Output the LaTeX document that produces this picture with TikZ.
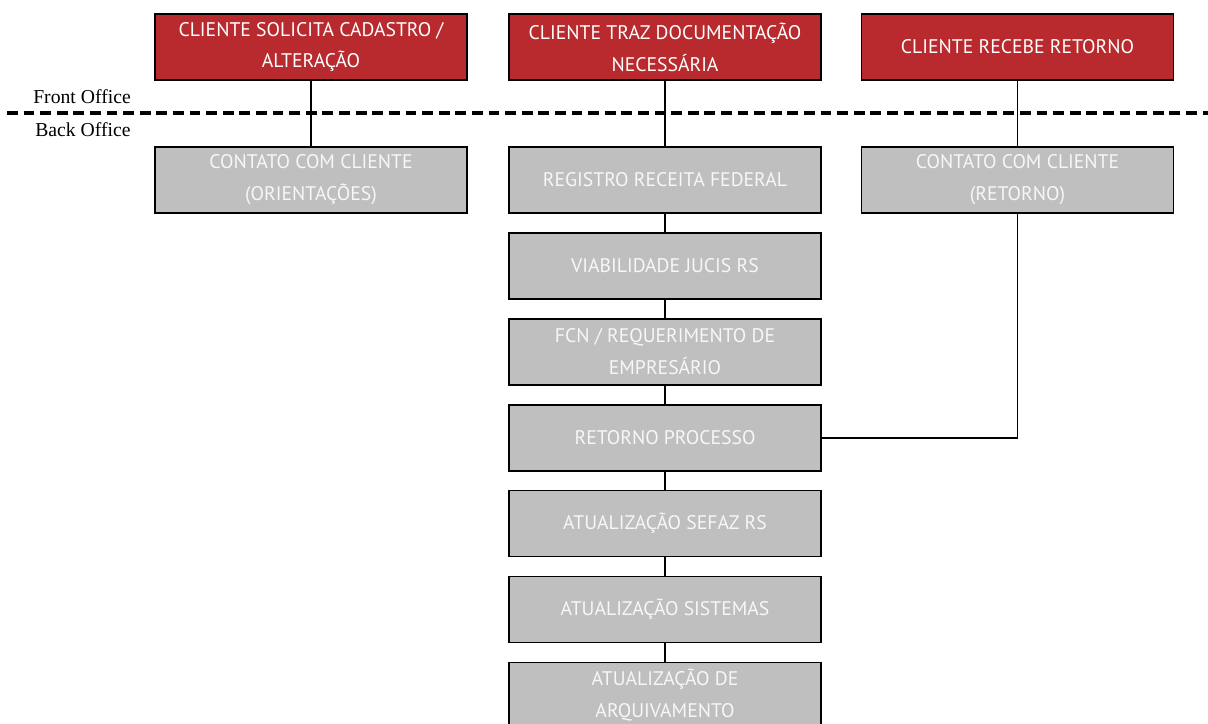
\documentclass[tikz,border=0pt]{standalone}
\usepackage{fontspec}
\setmainfont{Liberation Serif}
\setsansfont{PT Sans}
\usetikzlibrary{positioning}
\definecolor{frontred}{HTML}{B82A2E}
\definecolor{backgray}{HTML}{BFBFBF}
\tikzset{
	front/.style={draw=black,line width=1.2pt,fill=frontred,text=white,minimum width=7.8cm,minimum height=1.65cm,inner sep=0pt,align=center,font=\sffamily\fontsize{14}{22.7}\selectfont},
	back/.style={front,fill=backgray,text=white!94!gray},
	link/.style={line width=1.3pt},
	divider/.style={line width=2.8pt,dash pattern=on 0.27cm off 0.145cm},
	office/.style={anchor=west,inner sep=0pt,font=\fontsize{14}{16}\selectfont}
}

\begin{document}
\begin{tikzpicture}[x=0.025cm,y=-0.025cm]
	\useasboundingbox[fill=white] (0,0) rectangle (1208,723);
	
	\node[front] (solicita) at (311,47) {CLIENTE SOLICITA CADASTRO /\\ALTERAÇÃO};
	\node[front] (traz) at (665,47) {CLIENTE TRAZ DOCUMENTAÇÃO\\NECESSÁRIA};
	\node[front] (recebe) at (1017.5,47) {CLIENTE RECEBE RETORNO};
	
	\node[office] (fo) at (33,97) {Front Office};
	\node[office] (bo) at (35,130) {Back Office};
	\coordinate (dl) at (7,113);
	\coordinate (dr) at (1208,113);
	
	\node[back] (orient) at (311,180) {CONTATO COM CLIENTE\\(ORIENTAÇÕES)};
	\node[back] (receita) at (665,180) {REGISTRO RECEITA FEDERAL};
	\node[back] (contato) at (1017.5,180) {CONTATO COM CLIENTE\\(RETORNO)};
	
	\node[back,below=0.455cm of receita] (jucis) {VIABILIDADE JUCIS RS};
	\node[back,below=0.455cm of jucis] (fcn) {FCN / REQUERIMENTO DE\\EMPRESÁRIO};
	\node[back,below=0.455cm of fcn] (processo) {RETORNO PROCESSO};
	\node[back,below=0.455cm of processo] (sefaz) {ATUALIZAÇÃO SEFAZ RS};
	\node[back,below=0.455cm of sefaz] (sistemas) {ATUALIZAÇÃO SISTEMAS};
	\node[back,below=0.455cm of sistemas] (arquivo) {ATUALIZAÇÃO DE\\ARQUIVAMENTO};
	
	\draw[link] (solicita) -- (orient);
	\draw[link] (traz) -- (receita);
	\draw[link] (recebe) -- (contato);
	\draw[link] (receita) -- (jucis);
	\draw[link] (jucis) -- (fcn);
	\draw[link] (fcn) -- (processo);
	\draw[link] (processo) -- (sefaz);
	\draw[link] (sefaz) -- (sistemas);
	\draw[link] (sistemas) -- (arquivo);
	\draw[link] (contato.south) |- (processo.east);
	
	\draw[divider] (dl) -- (dr);
\end{tikzpicture}
\end{document}
